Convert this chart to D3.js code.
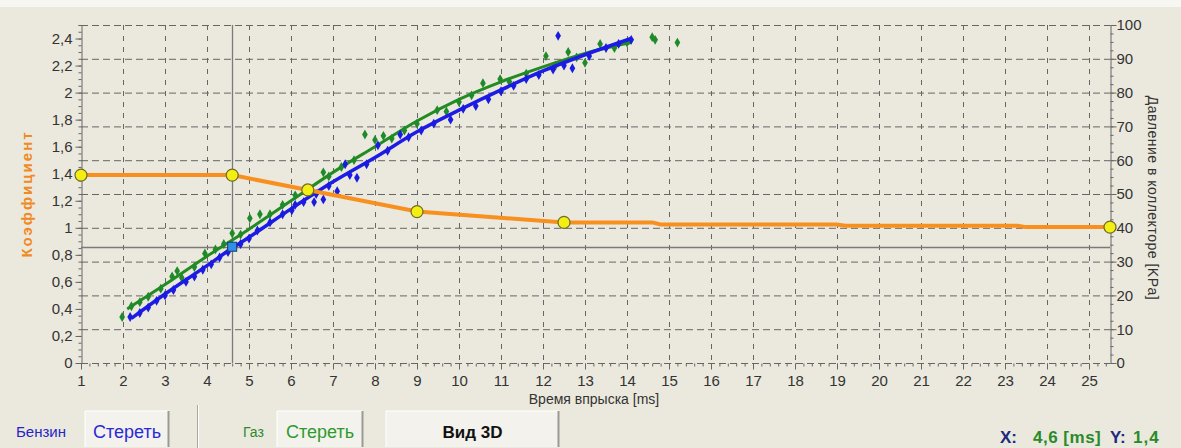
<!DOCTYPE html>
<html>
<head>
<meta charset="utf-8">
<script src="https://cdn.jsdelivr.net/npm/d3@7"></script>
<style>
  body { margin: 0; background: #ebe9dd; }
  svg { display: block; font-family: "Liberation Sans", Arial, sans-serif; }
</style>
</head>
<body>
<div class="chart"></div>
<script>
// injection time ticks and axis ranges
var xTicks = d3.range(1, 26);
var leftTicks = [0, 0.2, 0.4, 0.6, 0.8, 1, 1.2, 1.4, 1.6, 1.8, 2, 2.2, 2.4];
var rightTicks = [0, 10, 20, 30, 40, 50, 60, 70, 80, 90, 100];

// coefficient curve (orange) - control points with markers, and the drawn line
var coefPoints = [[1, 1.39], [4.6, 1.39], [6.4, 1.28], [9, 1.12], [12.5, 1.04], [25.5, 1.005]];
var coefLine = [[1, 1.39], [4.6, 1.39], [6.4, 1.28], [9, 1.12], [12.5, 1.04], [14.6, 1.04],
                [14.8, 1.025], [19, 1.025], [19.2, 1.015], [23.3, 1.015], [23.5, 1.005], [25.5, 1.005]];

// petrol (blue) fitted curve and scatter
var benzLine = [[2.2, 0.33], [3, 0.51], [4, 0.72], [4.6, 0.85], [5, 0.93], [6, 1.14], [7, 1.34], [8, 1.52],
                [9, 1.71], [10, 1.87], [11, 2.02], [12, 2.16], [13, 2.28], [14.1, 2.40]];
var benzPts = [[2.17, 0.34], [2.4, 0.37], [2.6, 0.41], [2.8, 0.46], [3.0, 0.50], [3.2, 0.54], [3.5, 0.60],
               [3.7, 0.64], [3.9, 0.69], [4.1, 0.73], [4.3, 0.78], [4.5, 0.82], [4.8, 0.88], [5.0, 0.92],
               [5.2, 0.98], [5.5, 1.04], [5.8, 1.10], [6.02, 1.13], [6.1, 1.17], [6.3, 1.19], [6.55, 1.19],
               [6.77, 1.21], [6.6, 1.25], [6.9, 1.31], [7.1, 1.27], [7.29, 1.47], [7.4, 1.39], [7.57, 1.37],
               [7.8, 1.47], [8.07, 1.61], [8.3, 1.57], [8.6, 1.69], [8.8, 1.67], [9.1, 1.72], [9.4, 1.77],
               [9.8, 1.80], [10.1, 1.88], [10.4, 1.90], [10.7, 1.95], [11.0, 2.01], [11.3, 2.05], [11.6, 2.10],
               [11.9, 2.13], [12.24, 2.17], [12.36, 2.42], [12.5, 2.20], [12.7, 2.18], [13.1, 2.27],
               [13.5, 2.33], [13.8, 2.36], [14.1, 2.39]];

// gas (green) fitted curve and scatter
var gasLine = [[2.1, 0.40], [3, 0.58], [4, 0.79], [5, 0.99], [6, 1.20], [7, 1.41], [8, 1.60], [9, 1.79],
               [10, 1.95], [11, 2.08], [12, 2.19], [13, 2.29], [14.1, 2.37]];
var gasPts = [[1.98, 0.34], [2.2, 0.42], [2.4, 0.45], [2.6, 0.49], [2.9, 0.55], [3.17, 0.64], [3.29, 0.68],
              [3.4, 0.63], [3.7, 0.71], [3.95, 0.81], [4.2, 0.84], [4.4, 0.88], [4.6, 0.96], [4.8, 0.95],
              [5.02, 1.07], [5.26, 1.10], [5.5, 1.10], [5.8, 1.17], [6.1, 1.24], [6.4, 1.28], [6.77, 1.41],
              [6.9, 1.38], [7.2, 1.45], [7.5, 1.50], [7.76, 1.69], [8.0, 1.65], [8.2, 1.68], [8.4, 1.66],
              [8.7, 1.72], [9.0, 1.77], [9.48, 1.87], [9.7, 1.86], [10.0, 1.93], [10.3, 1.98], [10.57, 2.07],
              [10.98, 2.10], [11.2, 2.08], [11.6, 2.14], [12.07, 2.27], [12.3, 2.20], [12.6, 2.30],
              [12.8, 2.26], [13.0, 2.22], [13.36, 2.36], [13.7, 2.33], [14.0, 2.37], [14.6, 2.41],
              [14.67, 2.39], [15.2, 2.37]];

// cursor position
var cursor = [4.6, 0.86];

var W = 1181, H = 448;
var svg = d3.select(".chart").append("svg").attr("width", W).attr("height", H);

svg.append("rect").attr("width", W).attr("height", H).attr("fill", "#ebe9dd");
svg.append("rect").attr("width", W).attr("height", 7).attr("fill", "#f6f6f2");

var x = d3.scaleLinear().domain([1, 25.5]).range([81, 1110]);
var y = d3.scaleLinear().domain([0, 2.5]).range([363, 25]);
var yR = d3.scaleLinear().domain([0, 100]).range([363, 25]);

var gridColor = "#666";

// grid
var grid = svg.append("g");
grid.selectAll(".hg").data(rightTicks.slice(1)).enter().append("line")
  .attr("x1", x(1)).attr("x2", x(25.5))
  .attr("y1", function(d) { return yR(d) + 0.5; }).attr("y2", function(d) { return yR(d) + 0.5; })
  .attr("stroke", gridColor).attr("stroke-dasharray", "7,4");
grid.selectAll(".vg").data(xTicks.slice(1)).enter().append("line")
  .attr("x1", function(d) { return Math.round(x(d)) + 0.5; }).attr("x2", function(d) { return Math.round(x(d)) + 0.5; })
  .attr("y1", y(2.5)).attr("y2", y(0))
  .attr("stroke", gridColor).attr("stroke-dasharray", "5,6");

// axes
var axisColor = "#666";
var bottom = svg.append("g").attr("transform", "translate(0," + (y(0) + 0.5) + ")");
bottom.append("line").attr("x1", x(1)).attr("x2", x(25.5)).attr("stroke", axisColor).attr("stroke-dasharray", "7,4");
bottom.call(d3.axisBottom(x).tickValues(d3.range(1, 25.5, 0.2)).tickSize(3).tickFormat(""))
  .call(function(g) { g.select(".domain").remove(); g.selectAll("line").attr("stroke", axisColor); });
bottom.append("g").call(d3.axisBottom(x).tickValues(xTicks).tickSize(6).tickPadding(6))
  .call(function(g) {
    g.select(".domain").remove();
    g.selectAll("line").attr("stroke", axisColor);
    g.selectAll("text").attr("font-size", 15).attr("fill", "#333").attr("font-family", "Liberation Sans, Arial");
  });

var left = svg.append("g").attr("transform", "translate(" + (x(1) + 0.5) + ",0)");
left.call(d3.axisLeft(y).tickValues(d3.range(0, 2.51, 0.05)).tickSize(3).tickFormat(""))
  .call(function(g) { g.select(".domain").attr("stroke", axisColor); g.selectAll("line").attr("stroke", axisColor); });
left.append("g").call(d3.axisLeft(y).tickValues(leftTicks).tickSize(6).tickPadding(3)
    .tickFormat(function(d) { return d3.format("")(+d.toFixed(1)).replace(".", ","); }))
  .call(function(g) {
    g.select(".domain").remove();
    g.selectAll("line").attr("stroke", axisColor);
    g.selectAll("text").attr("font-size", 15).attr("fill", "#333").attr("font-family", "Liberation Sans, Arial");
  });

var right = svg.append("g").attr("transform", "translate(" + (x(25.5) + 0.5) + ",0)");
right.call(d3.axisRight(yR).tickValues(d3.range(0, 101, 2.5)).tickSize(3).tickFormat(""))
  .call(function(g) { g.select(".domain").attr("stroke", axisColor); g.selectAll("line").attr("stroke", axisColor); });
right.append("g").call(d3.axisRight(yR).tickValues(rightTicks).tickSize(6).tickPadding(0))
  .call(function(g) {
    g.select(".domain").remove();
    g.selectAll("line").attr("stroke", axisColor);
    g.selectAll("text").attr("font-size", 15).attr("fill", "#333").attr("font-family", "Liberation Sans, Arial");
  });

// axis titles
svg.append("text").attr("x", 594).attr("y", 404).attr("text-anchor", "middle")
  .attr("font-size", 14).attr("fill", "#333").text("Время впрыска [ms]");
svg.append("text").attr("transform", "translate(32,194) rotate(-90)").attr("text-anchor", "middle")
  .attr("font-size", 15).attr("font-weight", "bold").attr("letter-spacing", 2)
  .attr("fill", "#f08a24").text("Коэффициент");
svg.append("text").attr("transform", "translate(1148,198) rotate(90)").attr("text-anchor", "middle")
  .attr("font-size", 14).attr("letter-spacing", 0.5).attr("fill", "#333").text("Давление в коллекторе [KPa]");

// cursor crosshair
svg.append("line").attr("x1", Math.round(x(cursor[0])) + 0.5).attr("x2", Math.round(x(cursor[0])) + 0.5)
  .attr("y1", y(2.5)).attr("y2", y(0)).attr("stroke", "#7a7a7a").attr("stroke-width", 1.3);
svg.append("line").attr("x1", x(1)).attr("x2", x(25.5))
  .attr("y1", Math.round(y(cursor[1])) + 0.5).attr("y2", Math.round(y(cursor[1])) + 0.5)
  .attr("stroke", "#7a7a7a").attr("stroke-width", 1.3);

var line = d3.line().x(function(d) { return x(d[0]); }).y(function(d) { return y(d[1]); });
var diamond = d3.symbol().type(d3.symbolDiamond).size(28);

// gas series
svg.append("path").datum(gasLine).attr("d", line.curve(d3.curveMonotoneX))
  .attr("fill", "none").attr("stroke", "#228b22").attr("stroke-width", 3);
svg.append("g").selectAll("path").data(gasPts).enter().append("path")
  .attr("d", diamond).attr("transform", function(d) { return "translate(" + x(d[0]) + "," + y(d[1]) + ")"; })
  .attr("fill", "#1f8a2a");

// petrol series
svg.append("path").datum(benzLine).attr("d", line.curve(d3.curveMonotoneX))
  .attr("fill", "none").attr("stroke", "#1c1ce6").attr("stroke-width", 3.5);
svg.append("g").selectAll("path").data(benzPts).enter().append("path")
  .attr("d", diamond).attr("transform", function(d) { return "translate(" + x(d[0]) + "," + y(d[1]) + ")"; })
  .attr("fill", "#1a1ae0");

// coefficient series
svg.append("path").datum(coefLine).attr("d", line.curve(d3.curveLinear))
  .attr("fill", "none").attr("stroke", "#f7901e").attr("stroke-width", 4);
svg.append("g").selectAll("circle").data(coefPoints).enter().append("circle")
  .attr("cx", function(d) { return x(d[0]); }).attr("cy", function(d) { return y(d[1]); })
  .attr("r", 6).attr("fill", "#f4ef12").attr("stroke", "#6f6a2a").attr("stroke-width", 1.2);

// cursor marker
svg.append("rect").attr("x", x(cursor[0]) - 4.5).attr("y", y(cursor[1]) - 4.5).attr("width", 9).attr("height", 9)
  .attr("fill", "#2f8fea").attr("stroke", "#1a3a70").attr("stroke-width", 1);

// bottom controls
function button(x0, x1, label, color, bold, size) {
  var g = svg.append("g");
  g.append("rect").attr("x", x0).attr("y", 411).attr("width", x1 - x0).attr("height", 36)
    .attr("fill", "#f3f2ec");
  g.append("path").attr("d", "M" + x0 + ",447V411H" + x1).attr("fill", "none").attr("stroke", "#ffffff");
  g.append("path").attr("d", "M" + (x1 - 0.5) + ",411V447").attr("fill", "none").attr("stroke", "#9a9a94").attr("stroke-width", 2);
  g.append("text").attr("x", (x0 + x1) / 2).attr("y", 438).attr("text-anchor", "middle")
    .attr("font-size", size).attr("font-weight", bold ? "bold" : "normal").attr("fill", color).text(label);
}
svg.append("text").attr("x", 16).attr("y", 437).attr("font-size", 15).attr("fill", "#2525c8").text("Бензин");
button(85, 169, "Стереть", "#2a2ad8", false, 18);
svg.append("line").attr("x1", 197.5).attr("x2", 197.5).attr("y1", 405).attr("y2", 448).attr("stroke", "#a8a79f");
svg.append("line").attr("x1", 198.5).attr("x2", 198.5).attr("y1", 405).attr("y2", 448).attr("stroke", "#ffffff");
svg.append("text").attr("x", 243).attr("y", 437).attr("font-size", 14).attr("fill", "#2c8a2c").text("Газ");
button(277, 363, "Стереть", "#2e9a2e", false, 18);
button(386, 559, "Вид 3D", "#111", true, 17);

var statusText = svg.append("text").attr("y", 443).attr("font-size", 17).attr("font-weight", "bold");
statusText.append("tspan").attr("x", 1000).attr("fill", "#1d2a80").text("X:");
statusText.append("tspan").attr("x", 1033).attr("fill", "#2a8a2a").attr("letter-spacing", 0.5).text("4,6 [ms]");
statusText.append("tspan").attr("x", 1110).attr("fill", "#1d2a80").text("Y:");
statusText.append("tspan").attr("x", 1133).attr("fill", "#2a8a2a").attr("letter-spacing", 1).text("1,4");
</script>
</body>
</html>
